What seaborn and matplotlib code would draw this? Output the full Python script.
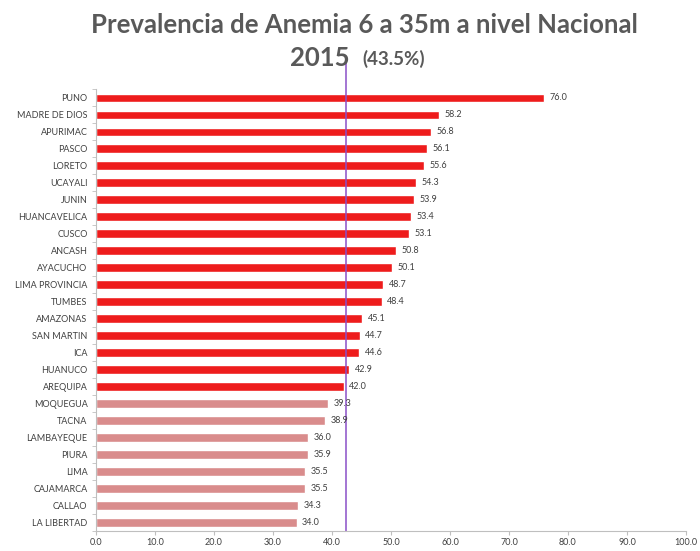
import pandas as pd
import numpy as np
import matplotlib
matplotlib.use("Agg")
import matplotlib.pyplot as plt
import seaborn as sns

regions = ["PUNO", "MADRE DE DIOS", "APURIMAC", "PASCO", "LORETO", "UCAYALI", "JUNIN",
           "HUANCAVELICA", "CUSCO", "ANCASH", "AYACUCHO", "LIMA PROVINCIA", "TUMBES",
           "AMAZONAS", "SAN MARTIN", "ICA", "HUANUCO", "AREQUIPA", "MOQUEGUA", "TACNA",
           "LAMBAYEQUE", "PIURA", "LIMA", "CAJAMARCA", "CALLAO", "LA LIBERTAD"]
values = [76.0, 58.2, 56.8, 56.1, 55.6, 54.3, 53.9, 53.4, 53.1, 50.8, 50.1, 48.7, 48.4,
          45.1, 44.7, 44.6, 42.9, 42.0, 39.3, 38.9, 36.0, 35.9, 35.5, 35.5, 34.3, 34.0]
groups = ["alto"] * 18 + ["bajo"] * 8
national_line = 42.4
x_ticks = [0, 10, 20, 30, 40, 50, 60, 70, 80, 90, 100]

df = pd.DataFrame({"region": regions, "valor": values, "grupo": groups})

sns.set_style("white")
plt.rcParams["font.family"] = ["Lato", "DejaVu Sans"]

fig = plt.figure(figsize=(7, 5.51), dpi=100)
ax = fig.add_axes([0.137, 0.036, 0.843, 0.802])

sns.barplot(data=df, x="valor", y="region", hue="grupo", dodge=False, legend=False,
            palette={"alto": "#ee1c1c", "bajo": "#d98c8c"}, width=0.5, ax=ax,
            saturation=1)

for cont in ax.containers:
    ax.bar_label(cont, fmt="%.1f", padding=4, fontsize=6.5, color="#404040")

ax.axvline(national_line, ymin=0, ymax=1.062, color="#8a4fc8", lw=1.1, clip_on=False)

ax.set_xlim(0, 100)
ax.set_xticks(x_ticks)
ax.set_xticklabels([f"{t:.1f}" for t in x_ticks], fontsize=6.5, color="#404040")
ax.set_yticks(range(len(regions)))
ax.set_yticklabels(regions, fontsize=6.5, color="#404040")
ax.set_yticks(np.arange(-0.5, len(regions), 1), minor=True)
ax.tick_params(axis="y", which="major", length=0, pad=6)
ax.tick_params(axis="y", which="minor", length=3, color="#bfbfbf", direction="out", left=True)
ax.tick_params(axis="x", length=3, color="#bfbfbf", bottom=True, pad=2)
ax.set_xlabel("")
ax.set_ylabel("")
ax.set_ylim(len(regions) - 0.5, -0.5)

sns.despine(ax=ax, top=True, right=True)
for s in ["left", "bottom"]:
    ax.spines[s].set_color("#bfbfbf")
    ax.spines[s].set_linewidth(0.8)

fig.text(0.521, 0.955, "Prevalencia de Anemia 6 a 35m a nivel Nacional", ha="center",
         va="center", fontsize=18.5, fontweight="bold", color="#595959")
fig.text(0.457, 0.895, "2015", ha="center", va="center", fontsize=18.5,
         fontweight="bold", color="#595959")
fig.text(0.562, 0.893, "(43.5%)", ha="center", va="center", fontsize=13.5,
         fontweight="bold", color="#595959")

fig.savefig("out.png", dpi=100)
